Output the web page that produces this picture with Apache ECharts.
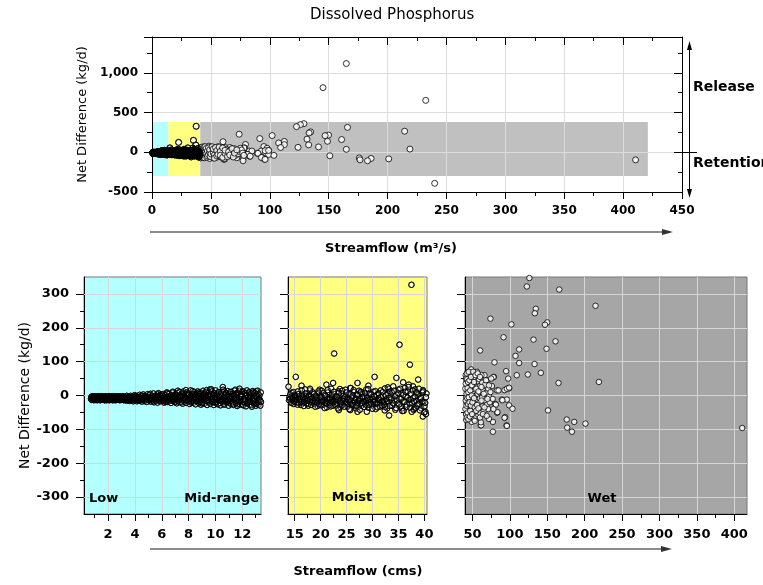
<!DOCTYPE html>
<html>
<head>
<meta charset="utf-8">
<script src="https://cdn.jsdelivr.net/npm/echarts@6/dist/echarts.min.js"></script>
<style>
  html, body { margin: 0; padding: 0; background: #ffffff; }
  #chart { width: 763px; height: 585px; }
</style>
</head>
<body>
<div id="chart"></div>
<script>
// Net phosphorus difference (kg/d) against streamflow, split by flow regime.
// Each point: [streamflow (cms), net difference (kg/d)]

const lowData = [
  [0.75,-8],[0.8,-4],[0.85,-11],[0.9,-6],[0.95,-9],[1.0,-3],[1.0,-12],[1.05,-7],[1.1,-5],[1.15,-10],
  [1.2,-8],[1.25,-4],[1.3,-12],[1.35,-6],[1.4,-9],[1.45,-3],[1.5,-11],[1.55,-7],[1.6,-5],[1.65,-10],
  [1.7,-8],[1.75,-13],[1.8,-4],[1.85,-9],[1.9,-6],[1.95,-11],[2.0,-7],[2.05,-3],[2.1,-12],[2.15,-8],
  [2.2,-5],[2.3,-10],[2.35,-6],[2.4,-13],[2.5,-8],[2.55,-4],[2.6,-11],[2.7,-7],[2.75,-9],[2.8,-5],
  [2.9,-12],[3.0,-8],[3.05,-3],[3.1,-10],[3.2,-6],[3.25,-10],[3.3,-13],[3.4,-9],[3.45,-6],[3.5,-4],
  [0.72,-10],[0.74,-5],[0.77,-13],[0.79,-7],[0.82,-2],[0.84,-9],[0.87,-12],[0.89,-4],[0.92,-8],[0.94,-14],
  [0.97,-6],[0.99,-10],[1.02,-2],[1.04,-8],[1.07,-13],[1.09,-5],[1.12,-11],[1.14,-3],[1.17,-9],[1.19,-14],
  [1.22,-6],[1.24,-11],[1.27,-2],[1.29,-8],[1.32,-13],[1.34,-4],[1.37,-10],[1.39,-7],[1.42,-14],[1.44,-5],
  [1.47,-9],[1.49,-2],[1.52,-12],[1.54,-6],[1.57,-10],[1.59,-3],[1.62,-13],[1.64,-7],[1.67,-11],[1.69,-4],
  [1.72,-9],[1.74,-14],[1.77,-2],[1.79,-8],[1.82,-12],[1.84,-5],[1.87,-10],[1.89,-14],[1.92,-3],[1.94,-9],
  [1.97,-6],[1.99,-13],[2.02,-10],[2.04,-4],[2.07,-8],[2.09,-14],[2.12,-2],[2.14,-11],[2.17,-6],[2.19,-9],
  [2.22,-13],[2.24,-3],[2.27,-7],[2.29,-12],[2.32,-5],[2.34,-14],[2.37,-9],[2.39,-2],[2.42,-10],[2.44,-6],
  [2.47,-13],[2.49,-4],[2.52,-11],[2.54,-8],[2.57,-14],[2.59,-2],[2.62,-7],[2.64,-12],[2.67,-5],[2.69,-10],
  [2.72,-3],[2.74,-13],[2.77,-8],[2.79,-11],[2.82,-2],[2.84,-6],[2.87,-14],[2.89,-9],[2.92,-4],[2.94,-12],
  [2.97,-7],[2.99,-10],[3.02,-13],[3.04,-5],[3.07,-8],[3.09,-2],[3.12,-12],[3.14,-6],[3.17,-14],[3.19,-9],
  [3.22,-3],[3.24,-11],[3.27,-7],[3.29,-13],[3.32,-4],[3.34,-9],[3.37,-15],[3.39,-1],[3.42,-11],[3.44,-6],
  [3.47,-14],[3.49,-8],
  [3.52,-3],[3.55,-12],[3.58,-7],[3.6,-11],[3.62,-16],[3.65,-12],[3.68,-1],[3.7,-7],[3.72,-10],[3.75,-5],
  [3.78,-13],[3.8,-15],[3.82,-8],[3.85,-8],[3.88,-17],[3.9,-2],[3.92,-4],[3.95,-11],[3.98,1],[4.0,-9],
  [4.02,-14],[4.05,-4],[4.08,-7],[4.1,-12],[4.12,-2],[4.15,-17],[4.18,-9],[4.2,-5],[4.22,-13],[4.25,-10],
  [4.28,-4],[4.3,-16],[4.32,-11],[4.35,2],[4.38,-15],[4.4,-8],[4.42,-6],[4.45,-13],[4.48,-10],[4.5,0],
  [4.52,-18],[4.55,-3],[4.58,-12],[4.6,-11],[4.62,3],[4.65,-7],[4.68,-8],[4.7,-6],[4.72,-16],[4.75,-1],
  [4.78,-13],[4.8,-14],[4.82,-6],[4.85,-10],[4.88,-19],[4.9,-3],[4.92,-9],[4.95,4],[4.98,-12],[5.0,-9],
  [5.02,-4],[5.05,-8],[5.08,-15],[5.1,2],[5.12,-8],[5.15,5],[5.18,-18],[5.2,-13],[5.22,-10],[5.25,-3],
  [5.28,-1],[5.3,-6],[5.32,-14],[5.35,-7],[5.38,6],[5.4,-17],[5.42,-20],[5.45,-11],[5.48,-3],[5.5,-1],
  [5.52,-12],[5.55,-16],[5.58,0],[5.6,-10],[5.62,-8],[5.65,-6],[5.68,-21],[5.7,4],[5.72,-5],[5.75,7],
  [5.78,-14],[5.8,-15],[5.82,-10],[5.85,-1],[5.88,2],[5.9,-7],[5.92,-17],[5.95,-6],[5.98,-12],[6.0,3],
  [6.02,-1],[6.05,-9],[6.08,-16],[6.1,-12],[6.12,4],[6.15,-8],[6.18,-21],[6.2,-4],[6.22,-11],[6.25,-14],
  [6.28,1],[6.3,-19],[6.32,-6],[6.35,-15],[6.38,9],[6.4,6],[6.42,-19],[6.45,-5],[6.48,-3],[6.5,-9],
  [6.52,-12],[6.55,5],[6.58,-17],[6.6,-2],[6.62,-8],[6.65,0],[6.68,-22],[6.7,-14],[6.72,2],[6.75,-10],
  [6.78,-5],[6.8,8],[6.82,11],[6.85,-11],[6.88,-16],[6.9,-6],[6.92,-1],[6.95,-13],[6.98,-20],[7.0,-18],
  [7.02,4],[7.05,-7],[7.08,-9],[7.1,2],[7.12,-23],[7.15,8],[7.18,-4],[7.2,14],[7.22,-17],[7.25,-15],
  [7.28,-12],[7.3,-11],[7.32,10],[7.35,-1],[7.38,-20],[7.4,-4],[7.42,-8],[7.45,-2],[7.48,5],[7.5,-20],
  [7.52,-14],[7.55,-24],[7.58,0],[7.6,7],[7.62,12],[7.65,-12],[7.68,-18],[7.7,-8],[7.72,-6],[7.75,-11],
  [7.78,3],[7.8,16],[7.82,-22],[7.85,3],[7.88,9],[7.9,-15],[7.92,-3],[7.95,-16],[7.98,-9],[8.0,1],
  [8.02,6],[8.05,-9],[8.08,-25],[8.1,-5],[8.12,-12],[8.15,15],[8.18,-2],[8.2,-21],[8.22,-18],[8.25,-16],
  [8.28,-7],[8.3,13],[8.32,4],[8.35,-14],[8.38,-21],[8.4,-10],[8.42,10],[8.45,-4],[8.48,-5],[8.5,4],
  [8.52,-26],[8.55,-11],[8.58,2],[8.6,-17],[8.62,-16],[8.65,6],[8.68,12],[8.7,-2],[8.72,-8],[8.75,-22],
  [8.78,-1],[8.8,9],[8.82,5],[8.85,-19],[8.88,-14],[8.9,-13],[8.92,-27],[8.95,8],[8.98,-6],[9.0,-23],
  [9.02,-19],[9.05,-10],[9.08,14],[9.1,3],[9.12,-11],[9.15,-3],[9.18,-24],[9.2,-7],[9.22,6],[9.25,-3],
  [9.28,-16],[9.3,11],[9.32,-8],[9.35,16],[9.38,-28],[9.4,-18],[9.42,0],[9.45,-14],[9.48,-13],[9.5,-1],
  [9.52,9],[9.55,-20],[9.58,-5],[9.6,18],[9.62,-25],[9.65,4],[9.68,2],[9.7,18],[9.72,-10],[9.75,12],
  [9.78,-17],[9.8,-12],[9.82,-1],[9.85,-20],[9.88,-28],[9.9,6],[9.92,7],[9.95,-14],[9.98,-6],[10.0,-22],
  [10.02,15],[10.05,-8],[10.08,-20],[10.1,-5],[10.12,-9],[10.15,3],[10.18,-26],[10.2,9],[10.22,-13],[10.25,-2],
  [10.28,10],[10.3,-15],[10.32,-4],[10.35,-22],[10.38,-29],[10.4,1],[10.42,6],[10.45,-16],[10.48,-11],[10.52,-18],
  [10.55,25],[10.58,17],[10.6,-25],[10.62,-6],[10.65,12],[10.68,-27],[10.7,-9],[10.72,0],[10.75,-15],[10.78,8],
  [10.8,5],[10.82,-21],[10.85,-11],[10.88,-3],[10.9,-19],[10.92,13],[10.95,-12],[10.98,-30],[11.0,-3],[11.02,4],
  [11.05,-21],[11.08,-17],[11.1,10],[11.12,-8],[11.15,-25],[11.18,11],[11.2,-14],[11.22,-2],[11.25,-6],[11.28,-19],
  [11.3,-24],[11.32,6],[11.35,-28],[11.38,-10],[11.4,2],[11.42,-4],[11.45,14],[11.48,17],[11.5,-8],[11.52,-22],
  [11.55,-14],[11.58,3],[11.6,7],[11.62,-31],[11.65,-26],[11.68,9],[11.7,-17],[11.72,-7],[11.75,-20],[11.78,14],
  [11.8,20],[11.82,-26],[11.85,-1],[11.88,-11],[11.9,-4],[11.92,5],[11.95,-17],[11.98,-2],[12.0,-27],[12.02,12],
  [12.05,-13],[12.08,-29],[12.1,11],[12.12,-9],[12.15,-20],[12.18,7],[12.2,-11],[12.22,-14],[12.25,8],[12.28,-32],
  [12.3,0],[12.32,2],[12.35,15],[12.38,-24],[12.4,-21],[12.42,-6],[12.45,-18],[12.48,-12],[12.5,6],[12.52,10],
  [12.55,-27],[12.58,-1],[12.6,-7],[12.62,-18],[12.65,-4],[12.68,6],[12.7,-28],[12.72,-33],[12.75,-9],[12.78,13],
  [12.8,9],[12.82,-16],[12.85,-23],[12.88,-3],[12.9,-15],[12.92,-25],[12.95,8],[12.98,-12],[13.0,-2],[13.02,-30],
  [13.05,12],[13.08,3],[13.1,-24],[13.12,-7],[13.15,14],[13.18,-20],[13.2,5],[13.22,-27],[13.25,-9],[13.28,0],
  [13.3,-12],[13.32,-15],[13.35,-30],[13.38,9],[13.4,-19]
];

const moistData = [
  [37.5,327],[35.2,150],[22.6,124],[37.2,91],[15.2,55],[30.4,55],[34.6,52],[38.8,47],[27.1,37],[35.9,39],
  [13.8,26],[16.3,29],[21.1,32],[22.4,37],[29.2,29],[37.0,32],[37.8,27],[39.7,16],[40.4,6],[33.1,19],
  [25.7,22],[23.7,19],[19.8,17],[17.9,15],[27.6,8],[31.1,6],[38.4,10],[33.2,-59],[39.7,-62],[40.2,-48],
  [28.9,-48],[27.1,-48],[25.7,-43],[23.5,-43],[37.9,-43],[35.7,-38],[32.4,-34],[40.3,-55],
  [14.0,-5],[14.2,-18],[14.4,8],[14.6,-12],[14.8,-25],[15.0,2],[15.2,-9],[15.4,-20],[15.6,12],[15.8,-3],
  [16.0,-15],[16.2,-28],[16.4,5],[16.6,-8],[16.8,-22],[17.0,18],[17.2,-2],[17.4,-14],[17.6,-30],[17.8,3],
  [18.0,-10],[18.2,-19],[18.4,10],[18.6,-6],[18.8,-25],[19.0,0],[19.2,-13],[19.4,-31],[19.6,7],[19.8,-4],
  [20.0,-20],[20.2,14],[20.4,-9],[20.6,-27],[20.8,2],[21.0,-16],[21.2,-35],[21.4,9],[21.6,-5],[21.8,-22],
  [22.0,20],[22.2,-11],[22.4,-30],[22.6,4],[22.8,-18],[23.0,-2],[23.2,-26],[23.4,12],[23.6,-8],[23.8,-34],
  [24.0,6],[24.2,-15],[24.4,-1],[24.6,-24],[24.8,17],[25.0,-10],[25.2,-33],[25.4,3],[25.6,-19],[25.8,22],
  [26.0,-6],[26.2,-28],[26.4,10],[26.6,-14],[26.8,-38],[27.0,1],[27.2,-21],[27.4,14],[27.6,-9],[27.8,-31],
  [28.0,5],[28.2,-17],[28.4,-2],[28.6,-26],[28.8,18],[29.0,-12],[29.2,-36],[29.4,7],[29.6,-20],[29.8,-5],
  [30.0,-29],[30.2,11],[30.4,-14],[30.6,-40],[30.8,2],[31.0,-23],[31.2,-8],[31.4,-33],[31.6,15],[31.8,-17],
  [32.0,-1],[32.2,-27],[32.4,21],[32.6,-11],[32.8,-38],[33.0,6],[33.2,-20],[33.4,12],[33.6,-6],[33.8,-30],
  [34.0,27],[34.2,-14],[34.4,-42],[34.6,3],[34.8,-24],[35.0,17],[35.2,-9],[35.4,-33],[35.6,8],[35.8,-18],
  [36.0,-45],[36.2,22],[36.4,-4],[36.6,-27],[36.8,13],[37.0,-13],[37.2,-36],[37.4,5],[37.6,-21],[37.8,-8],
  [38.0,-40],[38.2,18],[38.4,-15],[38.6,-30],[38.8,2],[39.0,-24],[39.2,-11],[39.4,-38],[39.6,9],[39.8,-19],
  [40.0,-32],[40.3,-5],
  [14.1,-10],[14.5,-2],[14.9,-16],[15.3,-6],[15.7,-22],[16.1,-11],[16.5,0],[16.9,-18],[17.3,-7],[17.7,-24],
  [18.1,-4],[18.5,-14],[18.9,-20],[19.3,-8],[19.7,-26],[20.1,-3],[20.5,-15],[20.9,-21],[21.3,-10],[21.7,-28],
  [22.1,-6],[22.5,-16],[22.9,-24],[23.3,-12],[23.7,-20],[24.1,-29],[24.5,-9],[24.9,-18],[25.3,-25],[25.7,-13],
  [26.1,-22],[26.5,-31],[26.9,-11],[27.3,-16],[27.7,-24],[28.1,-8],[28.5,-20],[28.9,-29],[29.3,-14],[29.7,-25],
  [30.1,-10],[30.5,-19],[31.0,-12],[31.5,-22],[32.0,-16],
  [13.9,-14],[14.15,3],[14.35,-22],[14.55,-7],[14.75,10],[14.95,-19],[15.1,-1],[15.35,-13],[15.55,-27],[15.75,4],
  [15.95,-9],[16.15,-20],[16.35,15],[16.55,-4],[16.75,-31],[16.95,-11],[17.15,6],[17.35,-24],[17.55,-15],[17.75,-2],
  [17.95,20],[18.15,-28],[18.35,-8],[18.55,-17],[18.75,5],[18.95,-33],[19.15,-3],[19.35,-21],[19.55,12],[19.75,-12],
  [19.95,-6],[20.15,-29],[20.35,-18],[20.55,7],[20.75,-37],[20.95,-1],[21.15,-23],[21.35,16],[21.55,-14],[21.75,-9],
  [21.95,-32],[22.15,2],[22.35,-20],[22.55,11],[22.75,-27],[22.95,-12],[23.15,-5],[23.35,-38],[23.55,8],[23.75,-15],
  [23.95,-24],[24.15,14],[24.35,-10],[24.55,-33],[24.75,-3],[24.95,9],[25.15,-21],[25.35,-14],[25.55,-40],[25.75,5],
  [25.95,-26],[26.15,-1],[26.35,16],[26.55,-19],[26.75,-8],[26.95,-30],[27.15,4],[27.35,-13],[27.55,-42],[27.75,11],
  [27.95,-22],[28.15,-4],[28.35,-34],[28.55,8],[28.75,-15],[28.95,-7],[29.15,19],[29.35,-27],[29.55,-11],[29.75,3],
  [29.95,-39],[30.15,-18],[30.35,-2],[30.55,13],[30.75,-24],[30.95,-35],[31.15,6],[31.35,-14],[31.55,-5],[31.75,-29],
  [31.95,10],[32.15,-20],[32.35,-44],[32.55,1],[32.75,-16],[32.95,24],[33.15,-7],[33.35,-31],[33.55,-12],[33.75,9],
  [33.95,-23],[34.15,14],[34.35,-2],[34.55,-37],[34.75,-15],[34.95,6],[35.15,-26],[35.35,20],[35.55,-10],[35.75,-46],
  [35.95,2],[36.15,-19],[36.35,11],[36.55,-33],[36.75,-6],[36.95,25],[37.15,-24],[37.35,-12],[37.55,-48],[37.75,15],
  [37.95,-17],[38.15,-3],[38.35,-36],[38.55,8],[38.75,-26],[38.95,20],[39.15,-44],[39.35,-7],[39.55,-18],[39.75,12],
  [39.95,-50],[40.15,-22]
];

const wetData = [
  [165,1116],[145.2,813],[232.4,653],[240,-391],[129,360],
  [126,347],[122.7,322],[166,313],[214.5,265],[74,227],[134.7,256],[133.4,243],[102,210],[149.9,216],[147,209],
  [91.5,172],[131.6,165],[161,160],[60.3,133],[112.4,136],[149,138],[107.5,117],[79.4,98],[112.4,96],[133,93],
  [95,72],[141.4,67],[109.2,60],[124,62],[97.7,50],[165,37],[219,40],[48.3,77],[78.6,55],[99,21],
  [92.8,16],[82.6,15],[89.3,-12],[96,-12],[80.4,-25],[99,-29],[103.5,-39],[151,-44],[83,-51],[93.7,-64],
  [77.3,-78],[95.5,-88],[61,-88],[77.3,-107],[176,-71],[186,-78],[176.6,-95],[183,-107],[201,-83],[410.6,-96],
  [66,60],[78,54],[96,20],[99,23],[84.8,15],[90,-14],[81.3,-27],[83.4,-49],[92.8,-66],[96,-90],
  [72,-69],[61.6,-88],[61.2,-79],
  [41,60],[42,45],[43,30],[42.5,12],[41.5,-5],[42,-22],[43,-40],[42,-58],[41.5,-72],[44,68],
  [45,52],[46,20],[45.5,0],[44.5,-15],[45,-33],[46,-50],[44,-65],[47,40],[48,25],[47.5,8],
  [48,-10],[47,-27],[48.5,-45],[47.5,-60],[49,-78],[50,62],[51,48],[50.5,30],[51,12],[50,-4],
  [51.5,-20],[50.5,-38],[51,-55],[52,-70],[53,55],[54,35],[53.5,18],[54,-2],[53,-18],[54.5,-30],
  [53.5,-48],[55,-62],[56,70],[57,42],[56.5,25],[57,5],[56,-12],[57.5,-25],[56.5,-42],[58,-58],
  [59,48],[60,28],[59.5,10],[60,-8],[59,-22],[61,-35],[60.5,-52],[62,60],[63,38],[64,15],
  [63,-5],[64.5,-18],[63.5,-32],[65,-45],[67,32],[68,8],[67,-15],[69,-28],[70,45],[71,20],
  [72,-3],[71,-40],[73,-20],[74,10],[75,50],[76,28],[77,-10],[78,-40],
  [40.5,20],[40.5,-40],[41,35],[41,-15],[41.5,50],[41.5,-55],[42,5],[42,-30],[42.5,65],[42.5,-65],
  [43,-8],[43,48],[43.5,22],[43.5,-50],[44,-25],[44,40],[44.5,10],[44.5,-70],[45,70],[45,-5],
  [46,-20],[46,45],[46.5,-62],[47,15],[47,-45],[48,55],[48,-30],[49,0],[49,30],[49.5,-55],
  [50,-20],[51,70],[52,-8],[52,40],[53,-35],[53,-75],[54,60],[55,20],[55,-45],[56,-28],
  [57,65],[58,12],[58,-38],[60,55],[60,-65],[62,-15],[62,25],[64,-55],[65,5],[66,-35],
  [68,45],[69,-60],[70,-10],[72,30]
];

// Axis ranges and tick values
const topFlowRange = [0, 450];
const topDiffRange = [-500, 1450];
const panelDiffRange = [-350, 350];
const diffLabels = [-300, -200, -100, 0, 100, 200, 300];
const diffMinor = [-250, -150, -50, 50, 150, 250];

const panels = [
  { name: 'Low / Mid-range', data: lowData, range: [0.2, 13.4], dense: true,
    labels: [2, 4, 6, 8, 10, 12], minor: [1, 3, 5, 7, 9, 11, 13] },
  { name: 'Moist', data: moistData, range: [13.7, 40.5], dense: true,
    labels: [15, 20, 25, 30, 35, 40], minor: [17.5, 22.5, 27.5, 32.5, 37.5] },
  { name: 'Wet', data: wetData, range: [40, 417], dense: false,
    labels: [50, 100, 150, 200, 250, 300, 350, 400], minor: [75, 125, 175, 225, 275, 325, 375] }
];

// Flow regime extents on the full-range plot
const regimeFlowBounds = [[0, 14], [14, 41], [41, 421]];
const regimeDiffBounds = [-300, 380];

const FONT = 'DejaVu Sans';
const regimeColors = ['#b4ffff', '#ffff80', '#c0c0c0'];
const panelColors = ['#b4ffff', '#ffff80', '#a6a6a6'];
const gridLineColor = '#d6d6d6';

function withCommas(v) {
  return String(v).replace(/\B(?=(\d{3})+(?!\d))/g, ',');
}

const pointStyle = { color: '#ffffff', borderColor: '#000000', borderWidth: 1 };
// outlines re-stroked above the fills so heavily overlapping runs read as dark bands
const outlineStyle = { color: 'rgba(0,0,0,0)', borderColor: '#000000', borderWidth: 1 };

const grids = [
  { left: 152, top: 37, width: 530, height: 155, containLabel: false, outerBoundsMode: 'none' },
  { left: 84, top: 277, width: 177, height: 237, show: true, backgroundColor: panelColors[0],
    borderColor: '#777', borderWidth: 1, containLabel: false, outerBoundsMode: 'none' },
  { left: 288, top: 277, width: 139, height: 237, show: true, backgroundColor: panelColors[1],
    borderColor: '#777', borderWidth: 1, containLabel: false, outerBoundsMode: 'none' },
  { left: 465, top: 277, width: 282, height: 237, show: true, backgroundColor: panelColors[2],
    borderColor: '#777', borderWidth: 1, containLabel: false, outerBoundsMode: 'none' }
];

const black = { color: '#000', width: 1 };
const labelFont = { fontFamily: FONT, fontWeight: 'bold', color: '#000' };

const xAxes = [
  { gridIndex: 0, type: 'value', position: 'bottom', min: topFlowRange[0], max: topFlowRange[1], interval: 50, z: 2,
    axisLine: { show: true, onZero: false, lineStyle: black },
    axisTick: { show: true, length: 7, lineStyle: black },
    minorTick: { show: true, splitNumber: 2, length: 4, lineStyle: black },
    axisLabel: Object.assign({ margin: 13, fontSize: 12 }, labelFont),
    splitLine: { show: true, lineStyle: { color: '#dcdcdc', width: 1 } } },
  { gridIndex: 0, type: 'value', position: 'top', min: topFlowRange[0], max: topFlowRange[1], interval: 50, z: 2,
    axisLine: { show: true, onZero: false, lineStyle: black },
    axisTick: { show: true, inside: true, length: 8, lineStyle: black },
    minorTick: { show: true, splitNumber: 2, length: 4, lineStyle: black },
    axisLabel: { show: false }, splitLine: { show: false } }
];

const yAxes = [
  { gridIndex: 0, type: 'value', position: 'left', min: topDiffRange[0], max: topDiffRange[1], interval: 500, z: 2,
    axisLine: { show: true, onZero: false, lineStyle: black },
    axisTick: { show: true, length: 8, lineStyle: black },
    minorTick: { show: true, splitNumber: 2, length: 5, lineStyle: black },
    axisLabel: Object.assign({ margin: 14, fontSize: 12,
      formatter: v => (v % 500 === 0 ? withCommas(v) : '') }, labelFont),
    splitLine: { show: true, lineStyle: { color: '#dcdcdc', width: 1 } },
    name: 'Net Difference (kg/d)', nameLocation: 'middle', nameRotate: 90, nameGap: 58,
    nameTextStyle: { fontFamily: FONT, fontSize: 13, color: '#000' } },
  { gridIndex: 0, type: 'value', position: 'right', min: topDiffRange[0], max: topDiffRange[1], interval: 500, z: 2,
    axisLine: { show: true, onZero: false, lineStyle: black },
    axisTick: { show: true, inside: true, length: 8, lineStyle: black },
    minorTick: { show: true, splitNumber: 2, length: 4, lineStyle: black },
    axisLabel: { show: false }, splitLine: { show: false } }
];

const series = [
  // regime shading behind the full-range scatter
  { type: 'scatter', xAxisIndex: 0, yAxisIndex: 0, data: [], silent: true, z: 1,
    markArea: { silent: true, z: 1, animation: false,
      data: regimeFlowBounds.map((b, i) => [
        { xAxis: b[0], yAxis: regimeDiffBounds[0], itemStyle: { color: regimeColors[i], opacity: 1 } },
        { xAxis: b[1], yAxis: regimeDiffBounds[1] }
      ]) } },
  { type: 'scatter', xAxisIndex: 0, yAxisIndex: 0, z: 3, silent: true, animation: false,
    symbol: 'circle', symbolSize: 6, itemStyle: pointStyle,
    data: lowData.concat(moistData, wetData) },
  { type: 'scatter', xAxisIndex: 0, yAxisIndex: 0, z: 4, silent: true, animation: false,
    symbol: 'circle', symbolSize: 6, itemStyle: outlineStyle,
    data: lowData.concat(moistData) }
];

panels.forEach((p, i) => {
  const g = i + 1;
  const xMajor = xAxes.length;
  xAxes.push({
    gridIndex: g, type: 'value', position: 'bottom', min: p.range[0], max: p.range[1],
    axisLine: { show: true, onZero: false, lineStyle: black },
    axisTick: { show: true, length: 7, lineStyle: black, customValues: p.labels },
    axisLabel: Object.assign({ margin: 14, fontSize: 13, customValues: p.labels }, labelFont),
    splitLine: { show: false }
  });
  xAxes.push({
    gridIndex: g, type: 'value', position: 'bottom', min: p.range[0], max: p.range[1],
    axisLine: { show: false, onZero: false },
    axisTick: { show: true, length: 4, lineStyle: black, customValues: p.minor },
    axisLabel: { show: false }, splitLine: { show: false }
  });
  const yMajor = yAxes.length;
  const yMain = {
    gridIndex: g, type: 'value', position: 'left', min: panelDiffRange[0], max: panelDiffRange[1],
    axisLine: { show: true, onZero: false, lineStyle: black },
    axisTick: { show: true, length: 8, lineStyle: black, customValues: diffLabels },
    axisLabel: Object.assign({ show: i === 0, margin: 15, fontSize: 13, customValues: diffLabels }, labelFont),
    splitLine: { show: false }
  };
  if (i === 0) {
    Object.assign(yMain, {
      name: 'Net Difference (kg/d)', nameLocation: 'middle', nameRotate: 90, nameGap: 52,
      nameTextStyle: { fontFamily: FONT, fontSize: 14, color: '#000' }
    });
  }
  yAxes.push(yMain);
  yAxes.push({
    gridIndex: g, type: 'value', position: 'left', min: panelDiffRange[0], max: panelDiffRange[1],
    axisLine: { show: false, onZero: false },
    axisTick: { show: true, length: 4, lineStyle: black, customValues: diffMinor },
    axisLabel: { show: false }, splitLine: { show: false }
  });

  // reference grid lines
  series.push({
    type: 'scatter', xAxisIndex: xMajor, yAxisIndex: yMajor, data: [], silent: true, z: 2,
    markLine: {
      silent: true, z: 2, animation: false, symbol: ['none', 'none'],
      label: { show: false }, emphasis: { disabled: true },
      lineStyle: { color: gridLineColor, width: 1, type: 'solid' },
      data: diffLabels.map(v => ({ yAxis: v })).concat(p.labels.map(v => ({ xAxis: v })))
    }
  });
  const visible = p.data.filter(d => d[0] >= p.range[0] && d[0] <= p.range[1] &&
                                     d[1] >= panelDiffRange[0] && d[1] <= panelDiffRange[1]);
  series.push({
    type: 'scatter', name: p.name, xAxisIndex: xMajor, yAxisIndex: yMajor, z: 3,
    silent: true, animation: false, symbol: 'circle', symbolSize: 5.5, itemStyle: pointStyle,
    data: visible
  });
  if (p.dense) {
    series.push({
      type: 'scatter', xAxisIndex: xMajor, yAxisIndex: yMajor, z: 4,
      silent: true, animation: false, symbol: 'circle', symbolSize: 5.5, itemStyle: outlineStyle,
      data: visible
    });
  }
});

function txt(x, y, text, font, align) {
  return { type: 'text', x: x, y: y, silent: true, z: 10,
    style: { text: text, font: font, fill: '#000',
      align: align || 'center', textAlign: align || 'center',
      verticalAlign: 'middle', textVerticalAlign: 'middle' } };
}
function seg(x1, y1, x2, y2, color, w) {
  return { type: 'line', silent: true, z: 10,
    shape: { x1: x1, y1: y1, x2: x2, y2: y2 }, style: { stroke: color, lineWidth: w } };
}
function tri(points, color) {
  return { type: 'polygon', silent: true, z: 10, shape: { points: points }, style: { fill: color } };
}

const boldFont = 'bold 13px "DejaVu Sans"';
const graphics = [
  // flow direction arrows under both x axes
  seg(150, 232, 664, 232, '#8c8c8c', 2),
  tri([[662, 229], [673, 232], [662, 235]], '#333'),
  txt(391, 249, 'Streamflow (m³/s)', boldFont),
  seg(150, 549, 663, 549, '#8c8c8c', 2),
  tri([[661, 546], [672, 549], [661, 552]], '#333'),
  txt(358, 572, 'Streamflow (cms)', boldFont),
  // release / retention indicator
  seg(689.5, 47, 689.5, 192, '#000', 1),
  tri([[687, 50], [689.5, 41], [692, 50]], '#000'),
  tri([[687, 189], [689.5, 198], [692, 189]], '#000'),
  seg(683, 152.5, 697, 152.5, '#000', 1),
  txt(693, 87, 'Release', 'bold 14px "DejaVu Sans"', 'left'),
  txt(693, 163, 'Retention', 'bold 14px "DejaVu Sans"', 'left'),
  // regime labels inside the panels
  txt(89, 499, 'Low', boldFont, 'left'),
  txt(259, 499, 'Mid-range', boldFont, 'right'),
  txt(352, 498, 'Moist', boldFont),
  txt(602, 499, 'Wet', boldFont)
];

const chart = echarts.init(document.getElementById('chart'), null, { renderer: 'canvas' });
chart.setOption({
  backgroundColor: '#ffffff',
  animation: false,
  title: { text: 'Dissolved Phosphorus', left: 310, top: 8, padding: 0,
    textStyle: { fontFamily: FONT, fontSize: 15, fontWeight: 'normal', color: '#000' } },
  grid: grids,
  xAxis: xAxes,
  yAxis: yAxes,
  series: series,
  graphic: graphics
});
</script>
</body>
</html>
